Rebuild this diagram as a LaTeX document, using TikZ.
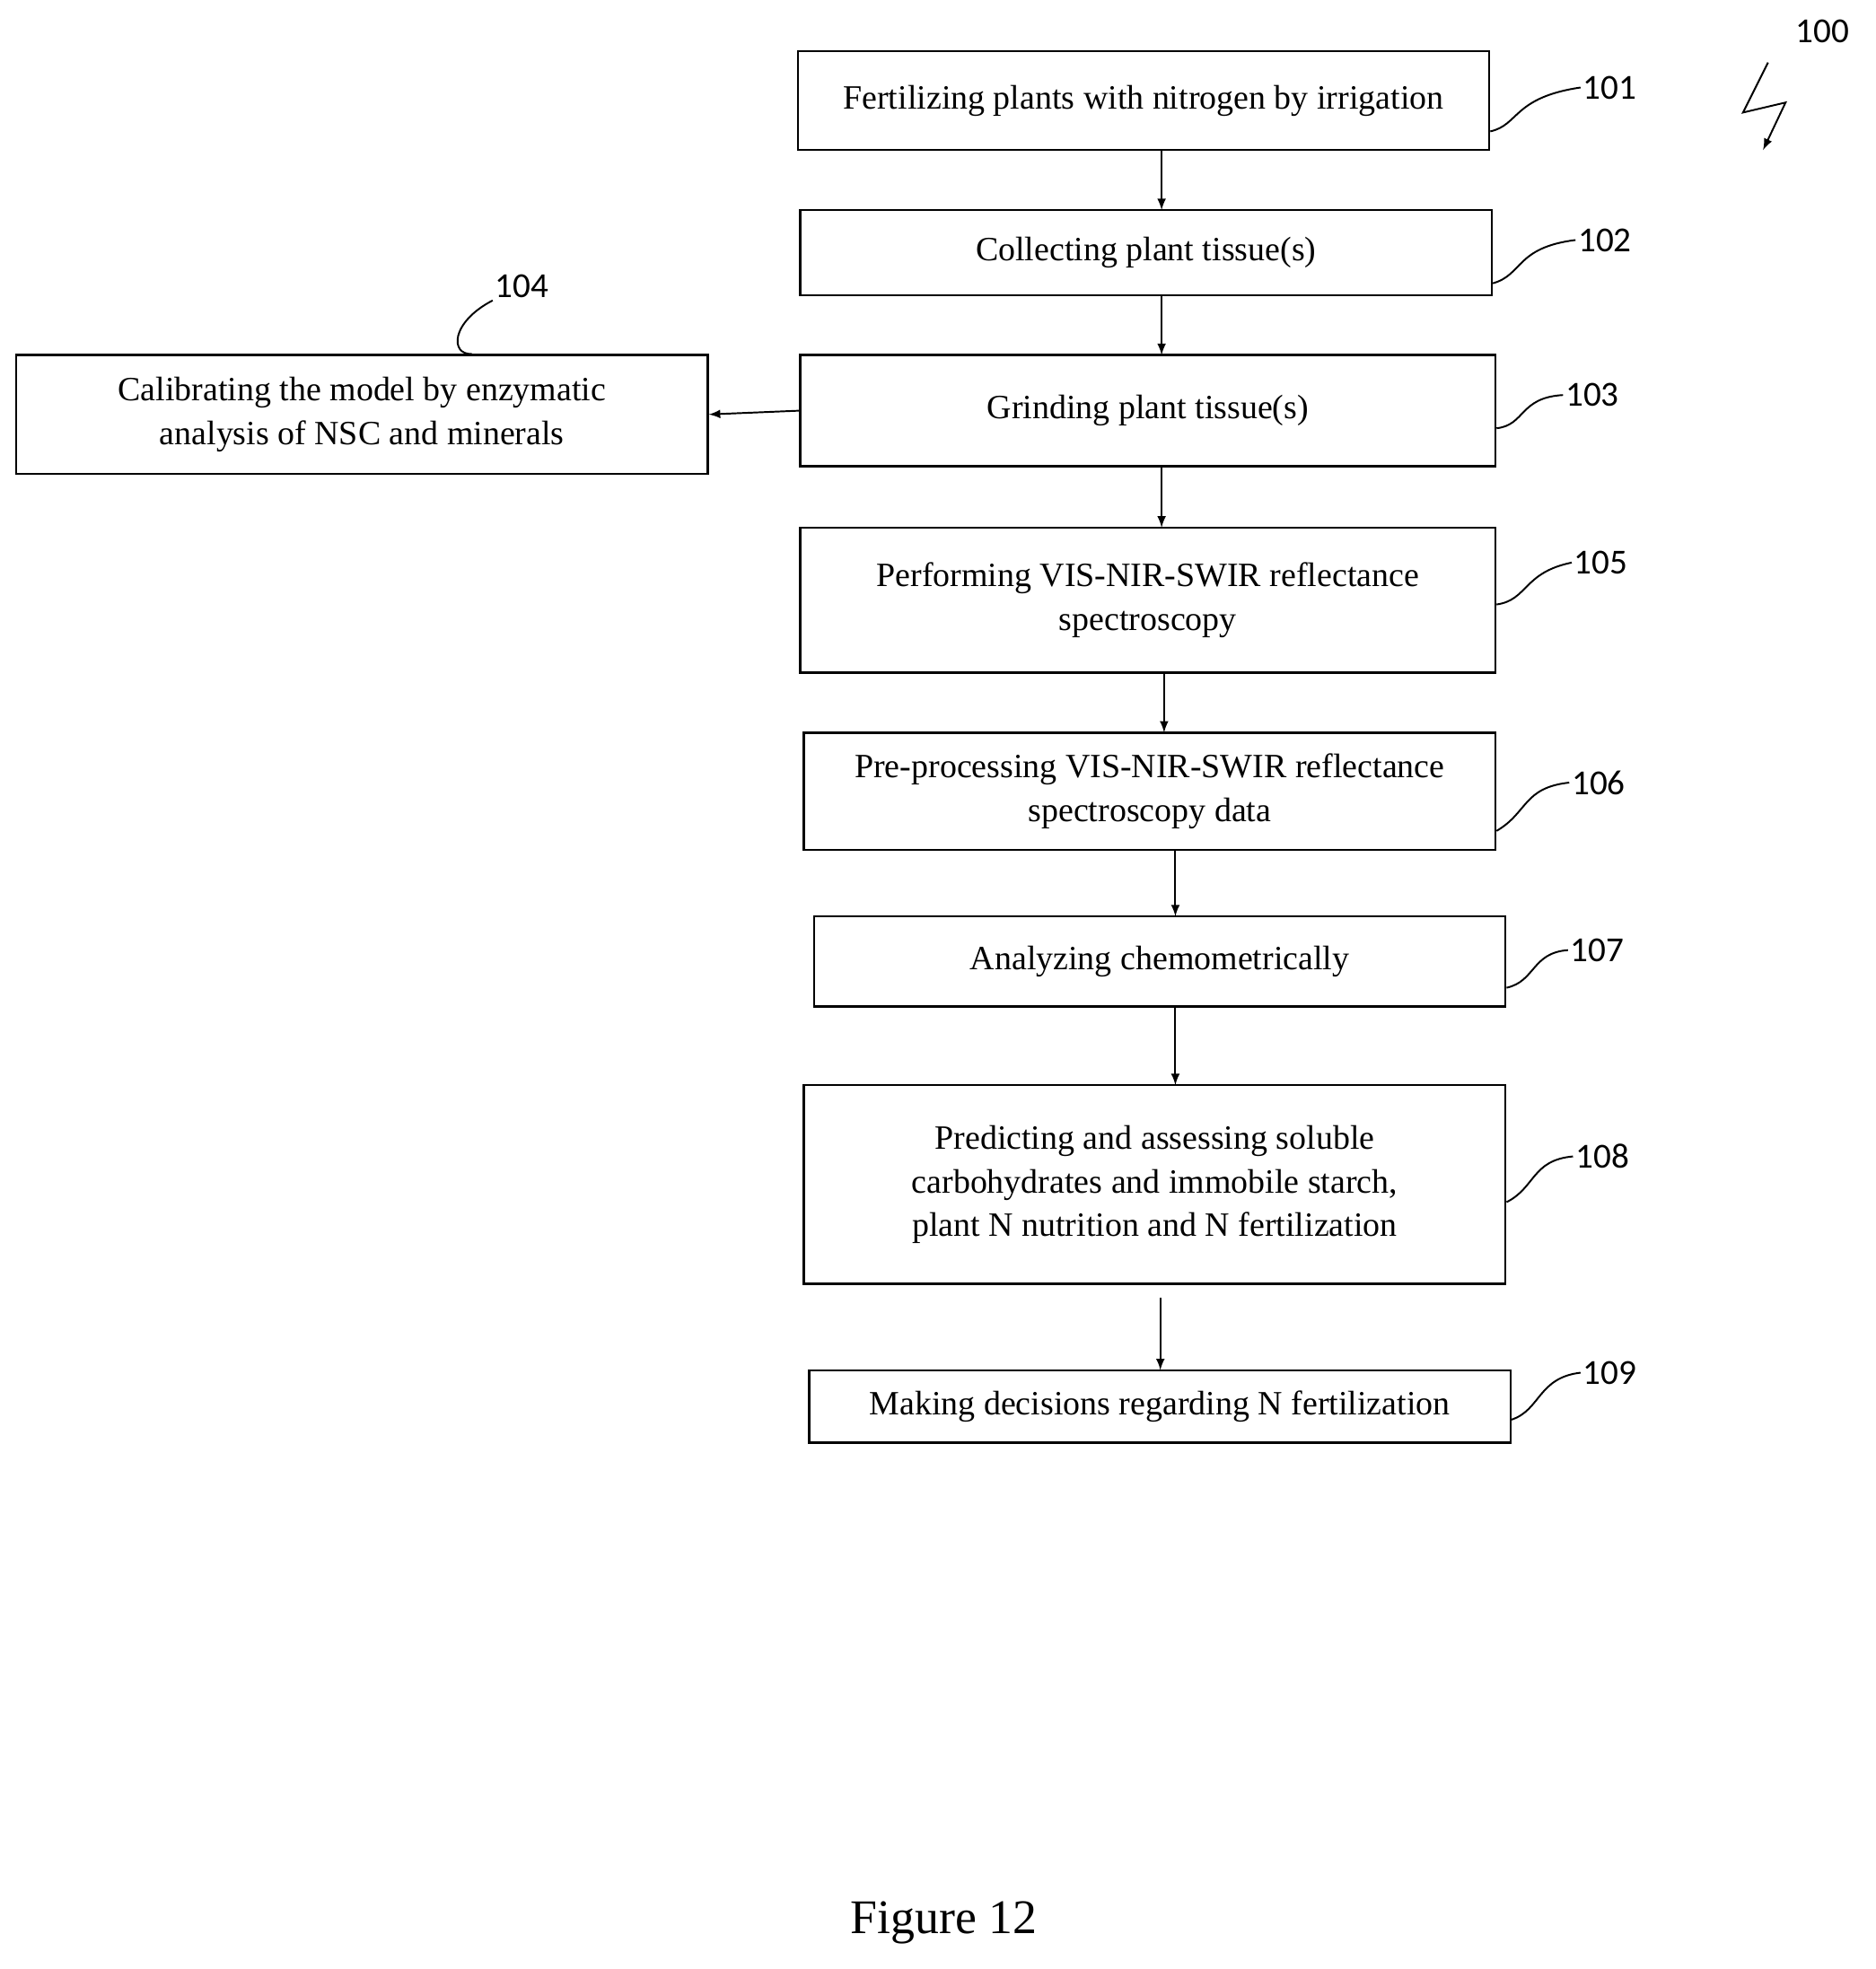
\documentclass[tikz,border=0pt]{standalone}
\usepackage{fontspec}
\setmainfont{Liberation Serif}
\newfontfamily\numfont{Carlito}
\usetikzlibrary{positioning}
\usetikzlibrary{calc}

\begin{document}
\begin{tikzpicture}[x=0.02cm,y=-0.02cm,>=latex]
        \tikzstyle{stepbox}=[draw,line width=1pt,inner sep=0pt,align=center,font=\fontsize{15.5}{20}\selectfont]
        \tikzstyle{num}=[font=\numfont\fontsize{16}{18}\selectfont,anchor=west,inner sep=1pt]
        \tikzstyle{flow}=[->,line width=0.8pt]
        \tikzstyle{lead}=[line width=0.8pt]

        \useasboundingbox (0,0) rectangle (1500,1575);

        % Draw the step boxes
        \node[stepbox,minimum width=553*0.02cm,minimum height=79*0.02cm] (b101) at (914.5,80.5) {Fertilizing plants with nitrogen by irrigation};
        \node[stepbox,minimum width=553*0.02cm,minimum height=68*0.02cm] (b102) at (916.5,202) {Collecting plant tissue(s)};
        \node[stepbox,minimum width=556*0.02cm,minimum height=89*0.02cm] (b103) at (918,328.5) {Grinding plant tissue(s)};
        \node[stepbox,minimum width=553*0.02cm,minimum height=95*0.02cm] (b104) at (289.5,331.5) {Calibrating the model by enzymatic\\analysis of NSC and minerals};
        \node[stepbox,minimum width=556*0.02cm,minimum height=116*0.02cm] (b105) at (918,480) {Performing VIS-NIR-SWIR reflectance\\spectroscopy};
        \node[stepbox,minimum width=553*0.02cm,minimum height=94*0.02cm] (b106) at (919.5,633) {Pre-processing VIS-NIR-SWIR reflectance\\spectroscopy data};
        \node[stepbox,minimum width=553*0.02cm,minimum height=72*0.02cm] (b107) at (927.5,769) {Analyzing chemometrically};
        \node[stepbox,minimum width=561*0.02cm,minimum height=159*0.02cm] (b108) at (923.5,947.5) {Predicting and assessing soluble\\carbohydrates and immobile starch,\\plant N nutrition and N fertilization};
        \node[stepbox,minimum width=561*0.02cm,minimum height=58*0.02cm] (b109) at (927.5,1125) {Making decisions regarding N fertilization};

        % Connect the steps
        \draw[flow] (929,120) -- (929,168);
        \draw[flow] (929,236) -- (929,284);
        \draw[flow] (929,373) -- (929,422);
        \draw[flow] (931,538) -- (931,586);
        \draw[flow] (940,680) -- (940,733);
        \draw[flow] (940,805) -- (940,868);
        \coordinate (c108) at (928,1038);
        \draw[flow] (c108) -- (928,1096);
        \draw[flow] (b103.west) -- (b104.east);

        % Reference numerals
        \node[num] (n101) at (1264,70) {101};
        \node[num] (n102) at (1260,192) {102};
        \node[num] (n103) at (1250,316) {103};
        \node[num] (n104) at (394,229) {104};
        \node[num] (n105) at (1257,450) {105};
        \node[num] (n106) at (1255,626) {106};
        \node[num] (n107) at (1254,760) {107};
        \node[num] (n108) at (1258,925) {108};
        \node[num] (n109) at (1264,1098) {109};
        \node[num] (n100) at (1434,25) {100};

        \draw[lead] ([yshift=-14pt]b101.east) .. controls (1215,100) and (1210,78) .. (n101.west);
        \draw[lead] ([yshift=-14pt]b102.east) .. controls (1218,220) and (1212,198) .. (n102.west);
        \draw[lead] ([yshift=-8pt]b103.east) .. controls (1220,340) and (1215,318) .. (n103.west);
        \draw[lead] ([xshift=50pt]b104.north) .. controls (360,284) and (360,258) .. (n104.south west);
        \draw[lead] ([yshift=-2pt]b105.east) .. controls (1222,480) and (1218,458) .. (n105.west);
        \draw[lead] ([yshift=-18pt]b106.east) .. controls (1222,650) and (1218,630) .. (n106.west);
        \draw[lead] ([yshift=-12pt]b107.east) .. controls (1228,785) and (1225,762) .. (n107.west);
        \draw[lead] ([yshift=-8pt]b108.east) .. controls (1228,950) and (1225,928) .. (n108.west);
        \draw[lead] ([yshift=-6pt]b109.east) .. controls (1232,1128) and (1230,1102) .. (n109.west);

        % Lightning arrow
        \coordinate (z1) at (1414,50);
        \coordinate (z2) at (1394,90);
        \coordinate (z3) at (1428,82);
        \coordinate (z4) at (1410,120);
        \draw[flow] (z1) -- (z2) -- (z3) -- (z4);

        \node[font=\fontsize{22}{26}\selectfont] (fig) at (755,1538) {Figure 12};
\end{tikzpicture}
\end{document}
